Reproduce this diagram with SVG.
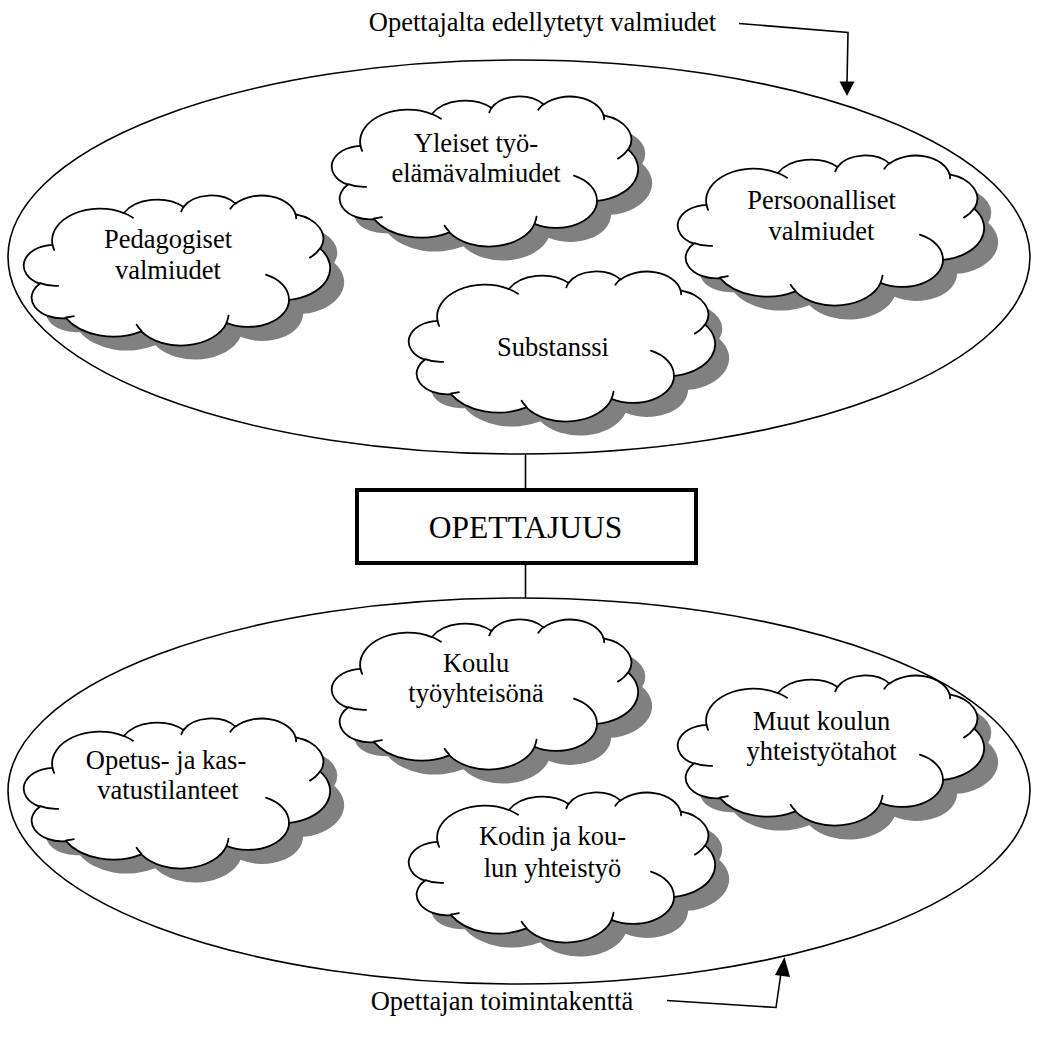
<svg xmlns="http://www.w3.org/2000/svg" xmlns:xlink="http://www.w3.org/1999/xlink" width="1038" height="1037" viewBox="0 0 1038 1037">
  <style>
    .lbl { font-family: "Liberation Serif", "Times New Roman", serif; font-size: 26.5px; fill: #000; text-anchor: middle; }
    .title { font-family: "Liberation Serif", "Times New Roman", serif; font-size: 31.5px; fill: #000; text-anchor: middle; }
    .ell { fill: none; stroke: #000; stroke-width: 1.6; }
    .wire { fill: none; stroke: #000; stroke-width: 1.6; }
    .cloud { fill: #fff; stroke: #000; stroke-width: 1.8; stroke-linejoin: round; }
    .crease { fill: none; stroke: #000; stroke-width: 1.8; stroke-linecap: round; }
    .shadow { fill: #808080; stroke: none; }
  </style>
  <defs>
    <!-- cloud outline, 305 x 150 box -->
    <path id="cloud-outline" d="M27.54 49.90 A47.68 31.91 0 0 1 98.89 18.06 A37.65 25.23 0 0 1 158.54 11.92 A30.82 20.64 0 0 1 210.63 8.61 A34.29 22.90 0 0 1 270.54 19.36 A37.65 25.25 0 0 1 295.25 53.68 A47.83 32.01 0 0 1 264.08 104.87 A40.84 27.32 0 0 1 201.61 127.82 A47.67 32.00 0 0 1 116.36 136.33 A54.50 36.61 0 0 1 40.97 123.15 A30.78 20.55 0 0 1 14.90 88.70 A30.68 20.64 0 0 1 27.54 49.90 Z"/>
    <!-- inner fold strokes of the cloud -->
    <path id="cloud-creases" d="M33.13 90.89 A30.68 20.64 0 0 1 15.24 88.12 M48.91 121.18 A30.78 20.55 0 0 1 41.09 122.50 M116.34 135.73 A47.67 32.00 0 0 1 111.62 129.68 M203.52 120.66 A47.67 32.00 0 0 1 201.64 127.29 M240.96 79.70 A40.84 27.32 0 0 1 263.92 104.48 M295.10 53.31 A37.65 25.25 0 0 1 284.88 62.61 M270.57 18.84 A34.29 22.90 0 0 1 271.11 23.23 M205.30 13.72 A34.29 22.90 0 0 1 210.53 8.12 M156.32 16.39 A30.82 20.64 0 0 1 158.85 11.56 M98.84 18.03 A47.68 31.91 0 0 1 108.01 22.70 M29.14 54.82 A47.68 31.91 0 0 1 27.54 49.90"/>
    <g id="cloud">
      <use xlink:href="#cloud-outline" class="shadow" transform="translate(14,14)"/>
      <use xlink:href="#cloud-outline" class="cloud"/>
      <use xlink:href="#cloud-creases" class="crease"/>
    </g>
  </defs>

  <!-- the two fields -->
  <g id="field-top">
    <ellipse class="ell" cx="519" cy="257" rx="511" ry="197"/>
  </g>
  <g id="field-bottom">
    <ellipse class="ell" cx="519" cy="791" rx="511" ry="193"/>
  </g>

  <!-- connectors -->
  <g id="connectors">
    <line class="wire" x1="525.5" y1="454" x2="525.5" y2="489"/>
    <line class="wire" x1="525.5" y1="565" x2="525.5" y2="598"/>
    <polyline class="wire" points="739,23.5 848,32.5 847,83"/>
    <polygon points="839.5,81.5 854.5,81.5 847,96" fill="#000"/>
    <polyline class="wire" points="667,1000.5 776,1007.5 781,973"/>
    <polygon points="775,975 790,977 784.5,957" fill="#000"/>
  </g>

  <g id="label-top">
    <text class="lbl" x="542.5" y="31">Opettajalta edellytetyt valmiudet</text>
  </g>
  <g id="label-bottom">
    <text class="lbl" x="502" y="1010">Opettajan toimintakenttä</text>
  </g>

  <g id="opettajuus">
    <rect x="357" y="490" width="339" height="73" fill="#fff" stroke="#000" stroke-width="4"/>
    <text class="title" x="525.5" y="538">OPETTAJUUS</text>
  </g>

  <g id="pedagogiset">
    <use xlink:href="#cloud" transform="translate(25,195)"/>
    <text class="lbl" x="168" y="248">Pedagogiset</text>
    <text class="lbl" x="168" y="278.5">valmiudet</text>
  </g>
  <g id="yleiset">
    <use xlink:href="#cloud" transform="translate(333,96)"/>
    <text class="lbl" x="476" y="151.5">Yleiset työ-</text>
    <text class="lbl" x="476" y="181.5">elämävalmiudet</text>
  </g>
  <g id="persoonalliset">
    <use xlink:href="#cloud" transform="translate(679,155)"/>
    <text class="lbl" x="821.5" y="208.5">Persoonalliset</text>
    <text class="lbl" x="821.5" y="240">valmiudet</text>
  </g>
  <g id="substanssi">
    <use xlink:href="#cloud" transform="translate(410,271)"/>
    <text class="lbl" x="553" y="356">Substanssi</text>
  </g>
  <g id="koulu">
    <use xlink:href="#cloud" transform="translate(333,619)"/>
    <text class="lbl" x="476" y="671.5">Koulu</text>
    <text class="lbl" x="476" y="701.5">työyhteisönä</text>
  </g>
  <g id="muut">
    <use xlink:href="#cloud" transform="translate(679,675)"/>
    <text class="lbl" x="821.5" y="730">Muut koulun</text>
    <text class="lbl" x="821.5" y="760">yhteistyötahot</text>
  </g>
  <g id="opetus">
    <use xlink:href="#cloud" transform="translate(25,718)"/>
    <text class="lbl" x="166" y="768.5">Opetus- ja kas-</text>
    <text class="lbl" x="168" y="798.5">vatustilanteet</text>
  </g>
  <g id="kodin">
    <use xlink:href="#cloud" transform="translate(410,792)"/>
    <text class="lbl" x="552.5" y="845">Kodin ja kou-</text>
    <text class="lbl" x="552.5" y="876.5">lun yhteistyö</text>
  </g>
</svg>
